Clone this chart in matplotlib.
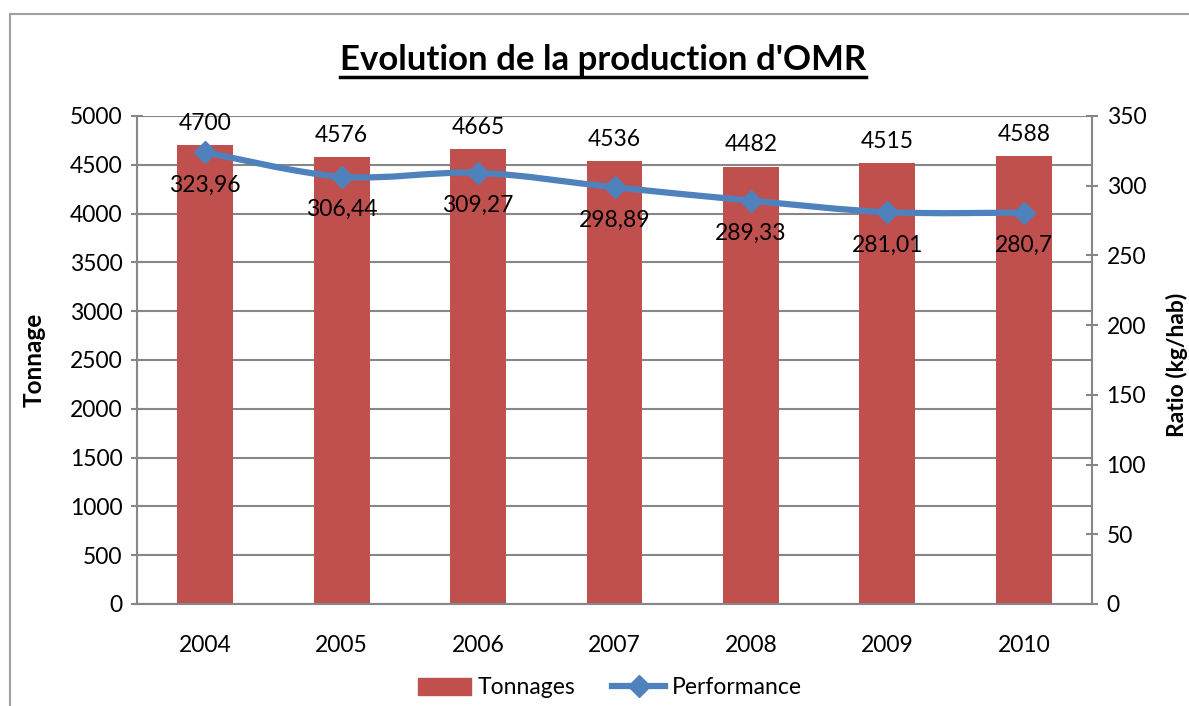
import matplotlib
matplotlib.use("Agg")
import matplotlib.pyplot as plt
from matplotlib.path import Path
from matplotlib.patches import PathPatch, Rectangle, Patch
from matplotlib.lines import Line2D
import numpy as np

years = ["2004", "2005", "2006", "2007", "2008", "2009", "2010"]
tonnages = [4700, 4576, 4665, 4536, 4482, 4515, 4588]
performance = [323.96, 306.44, 309.27, 298.89, 289.33, 281.01, 280.7]
perf_labels = ["323,96", "306,44", "309,27", "298,89", "289,33", "281,01", "280,7"]

plt.rcParams['font.family'] = ['Lato', 'DejaVu Sans']
BAR = '#C0504D'
LINE = '#4F81BD'
GRID = '#878787'
FS = 16.5

fig = plt.figure(figsize=(11.89, 7.06), dpi=100)
fig.patches.append(Rectangle((10/1189, -0.1), 2, 1.1 - 14/706, transform=fig.transFigure,
                             fill=False, edgecolor='#A0A0A0', linewidth=1.5))

ax = fig.add_axes([137/1189, 1 - 604/706, (1092 - 137)/1189, (604 - 116)/706])
x = np.arange(len(years))
ax.bar(x, tonnages, width=0.41, color=BAR, zorder=2)
ax.set_ylim(0, 5000)
ax.set_xlim(-0.5, len(years) - 0.5)
ax.set_yticks(np.arange(0, 5001, 500))
ax.set_xticks(x)
ax.set_xticklabels(years)
ax.yaxis.grid(True, color=GRID, linewidth=1.5, zorder=0)
ax.set_axisbelow(True)
for s in ['top', 'right']:
    ax.spines[s].set_visible(False)
for s in ['left', 'bottom']:
    ax.spines[s].set_color(GRID)
    ax.spines[s].set_linewidth(1.5)
ax.tick_params(axis='y', direction='inout', length=9, width=1.5, color=GRID, labelsize=FS, pad=6)
ax.tick_params(axis='x', length=0, labelsize=FS, pad=22)
ax.set_ylabel('Tonnage', fontsize=17.5, fontweight='bold')
ax.yaxis.set_label_coords(-0.096, 0.5)
for xi, v in zip(x, tonnages):
    ax.annotate(str(v), (xi, v), xytext=(0, 8), textcoords='offset points',
                ha='center', va='bottom', fontsize=FS)

ax2 = ax.twinx()
ax2.set_ylim(0, 350)
ax2.set_yticks(np.arange(0, 351, 50))
for s in ['top', 'left', 'bottom']:
    ax2.spines[s].set_visible(False)
ax2.spines['right'].set_color(GRID)
ax2.spines['right'].set_linewidth(1.5)
ax2.tick_params(axis='y', direction='inout', length=9, width=1.5, color=GRID, labelsize=FS, pad=6)
ax2.set_ylabel('Ratio (kg/hab)', fontsize=16.5, fontweight='bold')
ax2.yaxis.set_label_coords(1.077, 0.49)

# smoothed line (Catmull-Rom -> cubic Bezier) through the data points
px = x.astype(float)
py = np.array(performance)
verts = [(px[0], py[0])]
codes = [Path.MOVETO]
n = len(px)
for i in range(n - 1):
    p0 = (px[max(i - 1, 0)], py[max(i - 1, 0)])
    p1 = (px[i], py[i])
    p2 = (px[i + 1], py[i + 1])
    p3 = (px[min(i + 2, n - 1)], py[min(i + 2, n - 1)])
    c1 = (p1[0] + (p2[0] - p0[0]) / 6, p1[1] + (p2[1] - p0[1]) / 6)
    c2 = (p2[0] - (p3[0] - p1[0]) / 6, p2[1] - (p3[1] - p1[1]) / 6)
    verts += [c1, c2, p2]
    codes += [Path.CURVE4] * 3
ax2.add_patch(PathPatch(Path(verts, codes), fill=False, edgecolor=LINE, linewidth=4.5,
                        capstyle='round', zorder=3))
ax2.plot(px, py, linestyle='none', marker='D', markersize=11, color=LINE, zorder=4)
for xi, v, lab in zip(px, py, perf_labels):
    ax2.annotate(lab, (xi, v), xytext=(0, -16), textcoords='offset points',
                 ha='center', va='top', fontsize=FS)

fig.text(603/1189, 1 - 60/706, "Evolution de la production d'OMR", ha='center', va='center',
         fontsize=25, fontweight='bold')
fig.canvas.draw()
t = fig.texts[0]
bb = t.get_window_extent()
fig.add_artist(plt.Line2D([bb.x0 / 1189, bb.x1 / 1189], [(bb.y0 - 1) / 706] * 2,
                          transform=fig.transFigure, color='black', linewidth=2.5))

handles = [Patch(color=BAR, label='Tonnages'),
           Line2D([0], [0], color=LINE, linewidth=4.5, marker='D', markersize=11, label='Performance')]
fig.legend(handles=handles, loc='center', bbox_to_anchor=(610/1189, 1 - 688/706), ncol=2,
           frameon=False, fontsize=FS, handlelength=2.3, handleheight=0.75, columnspacing=1.6,
           handletextpad=0.3)

fig.savefig('out.png', dpi=100)
